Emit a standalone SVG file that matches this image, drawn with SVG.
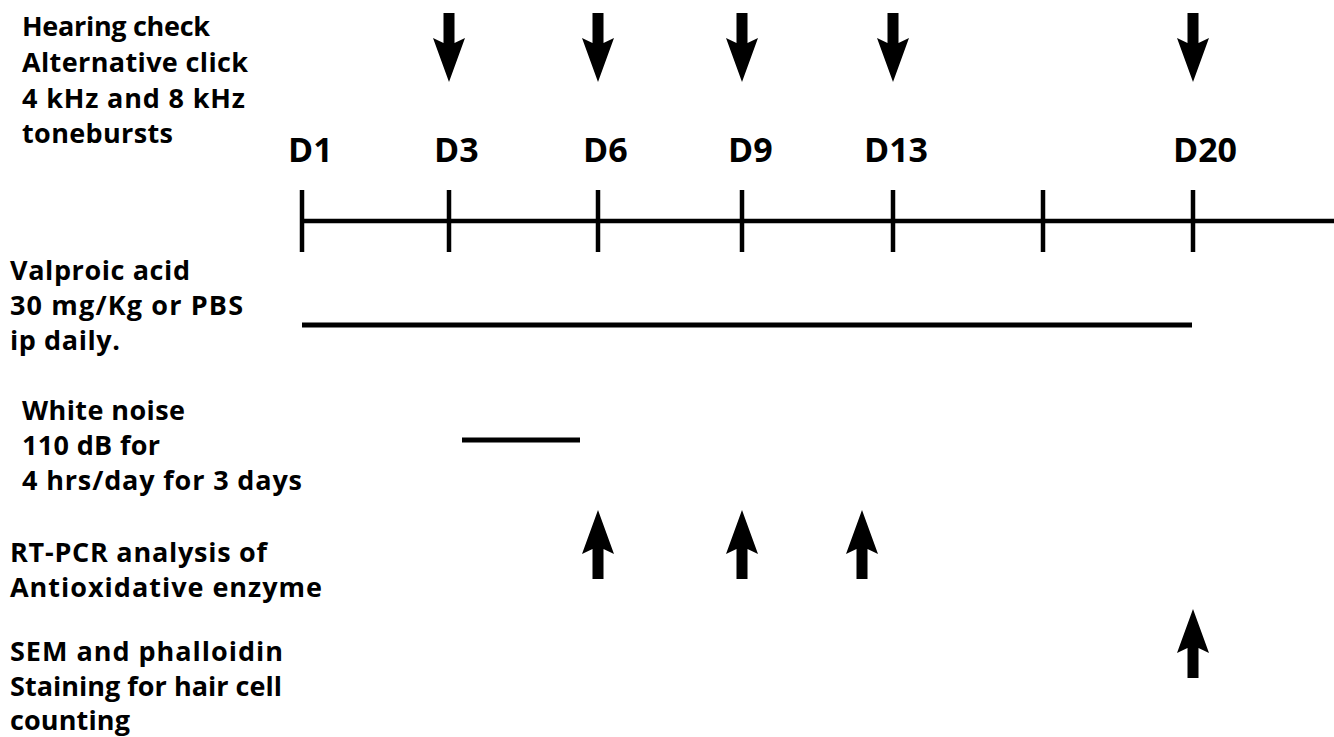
<svg xmlns="http://www.w3.org/2000/svg" width="1334" height="737" viewBox="0 0 1334 737">
<defs>
<style>
text{font-family:"Open Sans","Liberation Sans",Arial,sans-serif;font-weight:bold;fill:#000}
.lbl{font-size:27px}
.day{font-size:34px}
.ln{stroke:#000;stroke-width:4.5;fill:none}
.bar{stroke:#000;stroke-width:5;fill:none}
.arr{fill:#000}
</style>
<path id="down" d="M-5.5,0 H5.5 V30 L16,25 L0,69 L-16,25 L-5.5,30 Z"/>
<path id="up" d="M-5.5,0 H5.5 V-30 L16,-25 L0,-69 L-16,-25 L-5.5,-30 Z"/>
</defs>
<g id="labels">
<g id="hearing"><text class="lbl" x="22" y="36" textLength="188">Hearing check</text><text class="lbl" x="22" y="72" textLength="226">Alternative click</text><text class="lbl" x="22" y="108" textLength="223">4 kHz and 8 kHz</text><text class="lbl" x="22" y="143" textLength="151">tonebursts</text></g>
<g id="valproic"><text class="lbl" x="10" y="280" textLength="180">Valproic acid</text><text class="lbl" x="10" y="315" textLength="233">30 mg/Kg or PBS</text><text class="lbl" x="10" y="350" textLength="110">ip daily.</text></g>
<g id="noise"><text class="lbl" x="22" y="420" textLength="163">White noise</text><text class="lbl" x="22" y="455" textLength="138">110 dB for</text><text class="lbl" x="22" y="490" textLength="280">4 hrs/day for 3 days</text></g>
<g id="rtpcr"><text class="lbl" x="10" y="562" textLength="257">RT-PCR analysis of</text><text class="lbl" x="10" y="597" textLength="312">Antioxidative enzyme</text></g>
<g id="sem"><text class="lbl" x="10" y="661" textLength="273">SEM and phalloidin</text><text class="lbl" x="10" y="696" textLength="272">Staining for hair cell</text><text class="lbl" x="10" y="730" textLength="120">counting</text></g>
</g>
<g id="days">
<text class="day" x="288" y="162">D1</text>
<text class="day" x="434" y="162">D3</text>
<text class="day" x="583" y="162">D6</text>
<text class="day" x="728" y="162">D9</text>
<text class="day" x="864" y="162">D13</text>
<text class="day" x="1173" y="162">D20</text>
</g>
<g id="timeline">
<line class="ln" x1="302" y1="221" x2="1334" y2="221"/>
<line class="ln" x1="302" y1="190" x2="302" y2="252"/>
<line class="ln" x1="449" y1="190" x2="449" y2="252"/>
<line class="ln" x1="598" y1="190" x2="598" y2="252"/>
<line class="ln" x1="742" y1="190" x2="742" y2="252"/>
<line class="ln" x1="893" y1="190" x2="893" y2="252"/>
<line class="ln" x1="1043" y1="190" x2="1043" y2="252"/>
<line class="ln" x1="1193" y1="190" x2="1193" y2="252"/>
</g>
<g id="bars">
<line class="bar" x1="302" y1="325" x2="1192" y2="325"/>
<line class="bar" x1="462" y1="440" x2="580" y2="440"/>
</g>
<g id="connectors" class="arr">
<use href="#down" x="449" y="13"/>
<use href="#down" x="598" y="13"/>
<use href="#down" x="742" y="13"/>
<use href="#down" x="893" y="13"/>
<use href="#down" x="1193" y="13"/>
<use href="#up" x="598" y="579"/>
<use href="#up" x="742" y="579"/>
<use href="#up" x="862" y="579"/>
<use href="#up" x="1193" y="678"/>
</g>
</svg>
